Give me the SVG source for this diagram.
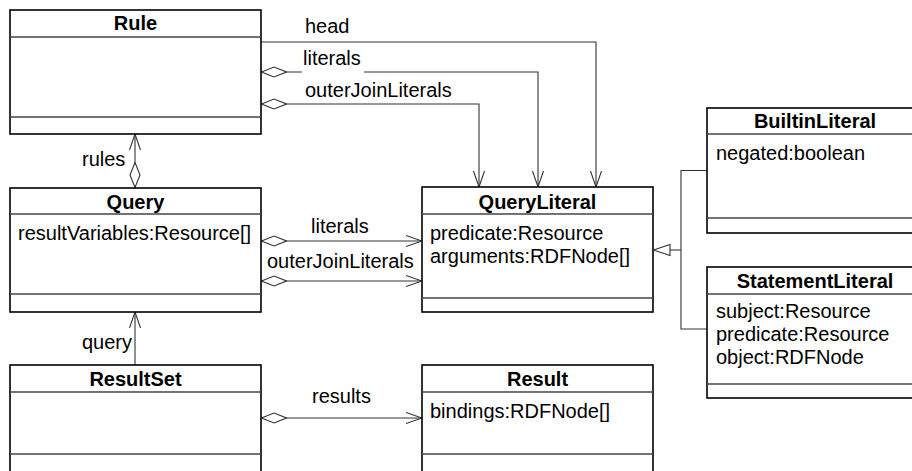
<svg xmlns="http://www.w3.org/2000/svg" width="912" height="471" viewBox="0 0 912 471">
<style>
  .box { fill: #fff; stroke: #000; stroke-width: 1.6; }
  .div { stroke: #444; stroke-width: 1.4; }
  .title { font-family: "Liberation Sans", Arial, sans-serif; font-size: 20px; font-weight: bold; text-anchor: middle; fill: #000; }
  .attr { font-family: "Liberation Sans", Arial, sans-serif; font-size: 20px; fill: #000; }
  .lbl { font-family: "Liberation Sans", Arial, sans-serif; font-size: 20px; fill: #000; }
  .conn { fill: none; stroke: #333; stroke-width: 1.1; }
  .dia { fill: #fff; stroke: #333; stroke-width: 1.1; }
</style>
<defs>
  <marker id="open" viewBox="0 0 16 12" refX="16" refY="6" markerWidth="16" markerHeight="12" markerUnits="userSpaceOnUse" orient="auto">
    <path d="M0,0.5 L16,6 L0,11.5" fill="none" stroke="#333" stroke-width="1.1"/>
  </marker>
  <marker id="diamond" viewBox="0 0 26 12" refX="0" refY="6" markerWidth="26" markerHeight="12" markerUnits="userSpaceOnUse" orient="auto">
    <path d="M0.5,6 L13,1 L25.5,6 L13,11 Z" fill="#fff" stroke="#333" stroke-width="1.1"/>
  </marker>
</defs>

<g id="connectors">
  <!-- Rule -> QueryLiteral -->
  <polyline class="conn" points="261,42 596,42 596,187" marker-end="url(#open)"/>
  <polyline class="conn" points="261,72 538,72 538,187" marker-start="url(#diamond)" marker-end="url(#open)"/>
  <polyline class="conn" points="261,104 479,104 479,187" marker-start="url(#diamond)" marker-end="url(#open)"/>
  <!-- Query -> Rule (rules) -->
  <line class="conn" x1="135" y1="188" x2="135" y2="134" marker-start="url(#diamond)" marker-end="url(#open)"/>
  <!-- ResultSet -> Query (query) -->
  <line class="conn" x1="135" y1="365" x2="135" y2="312" marker-end="url(#open)"/>
  <!-- Query -> QueryLiteral -->
  <line class="conn" x1="261" y1="241" x2="422" y2="241" marker-start="url(#diamond)" marker-end="url(#open)"/>
  <line class="conn" x1="261" y1="281" x2="422" y2="281" marker-start="url(#diamond)" marker-end="url(#open)"/>
  <!-- ResultSet -> Result -->
  <line class="conn" x1="261" y1="418" x2="422" y2="418" marker-start="url(#diamond)" marker-end="url(#open)"/>
  <!-- Generalization -->
  <polyline class="conn" points="707,170.5 681,170.5 681,329 707,329"/>
  <line class="conn" x1="670" y1="250" x2="681" y2="250"/>
  <polygon points="653.5,250 670,244.5 670,255.5" fill="#fff" stroke="#333" stroke-width="1.1"/>

  <!-- labels -->
  <text class="lbl" x="305" y="33">head</text>
  <rect x="302" y="52" width="62" height="22" fill="#fff"/>
  <text class="lbl" x="303" y="65">literals</text>
  <text class="lbl" x="305" y="97">outerJoinLiterals</text>
  <text class="lbl" x="82" y="166">rules</text>
  <text class="lbl" x="82" y="349">query</text>
  <text class="lbl" x="311" y="233">literals</text>
  <text class="lbl" x="267" y="268">outerJoinLiterals</text>
  <text class="lbl" x="312" y="403">results</text>
</g>

<g id="Rule">
  <rect class="box" x="10" y="10" width="251" height="124"/>
  <line class="div" x1="10" y1="37" x2="261" y2="37"/>
  <line class="div" x1="10" y1="117" x2="261" y2="117"/>
  <text class="title" x="135.5" y="30">Rule</text>
</g>

<g id="Query">
  <rect class="box" x="10" y="188" width="251" height="124"/>
  <line class="div" x1="10" y1="214" x2="261" y2="214"/>
  <line class="div" x1="10" y1="294" x2="261" y2="294"/>
  <text class="title" x="135.5" y="209">Query</text>
  <text class="attr" x="18" y="240">resultVariables:Resource[]</text>
</g>

<g id="ResultSet">
  <rect class="box" x="10" y="365" width="251" height="125"/>
  <line class="div" x1="10" y1="392" x2="261" y2="392"/>
  <line class="div" x1="10" y1="454" x2="261" y2="454"/>
  <text class="title" x="135.5" y="386">ResultSet</text>
</g>

<g id="QueryLiteral">
  <rect class="box" x="422" y="187" width="231" height="125"/>
  <line class="div" x1="422" y1="214" x2="653" y2="214"/>
  <line class="div" x1="422" y1="298" x2="653" y2="298"/>
  <text class="title" x="537.5" y="209">QueryLiteral</text>
  <text class="attr" x="430" y="240">predicate:Resource</text>
  <text class="attr" x="430" y="263">arguments:RDFNode[]</text>
</g>

<g id="Result">
  <rect class="box" x="422" y="365" width="231" height="125"/>
  <line class="div" x1="422" y1="392" x2="653" y2="392"/>
  <line class="div" x1="422" y1="454" x2="653" y2="454"/>
  <text class="title" x="537.5" y="386">Result</text>
  <text class="attr" x="430" y="418">bindings:RDFNode[]</text>
</g>

<g id="BuiltinLiteral">
  <rect class="box" x="707" y="108" width="216" height="125"/>
  <line class="div" x1="707" y1="134" x2="923" y2="134"/>
  <line class="div" x1="707" y1="218" x2="923" y2="218"/>
  <text class="title" x="815" y="128">BuiltinLiteral</text>
  <text class="attr" x="716" y="160">negated:boolean</text>
</g>

<g id="StatementLiteral">
  <rect class="box" x="707" y="267" width="216" height="131"/>
  <line class="div" x1="707" y1="294" x2="923" y2="294"/>
  <line class="div" x1="707" y1="384" x2="923" y2="384"/>
  <text class="title" x="815" y="288">StatementLiteral</text>
  <text class="attr" x="716" y="318">subject:Resource</text>
  <text class="attr" x="716" y="341">predicate:Resource</text>
  <text class="attr" x="716" y="364">object:RDFNode</text>
</g>
</svg>
